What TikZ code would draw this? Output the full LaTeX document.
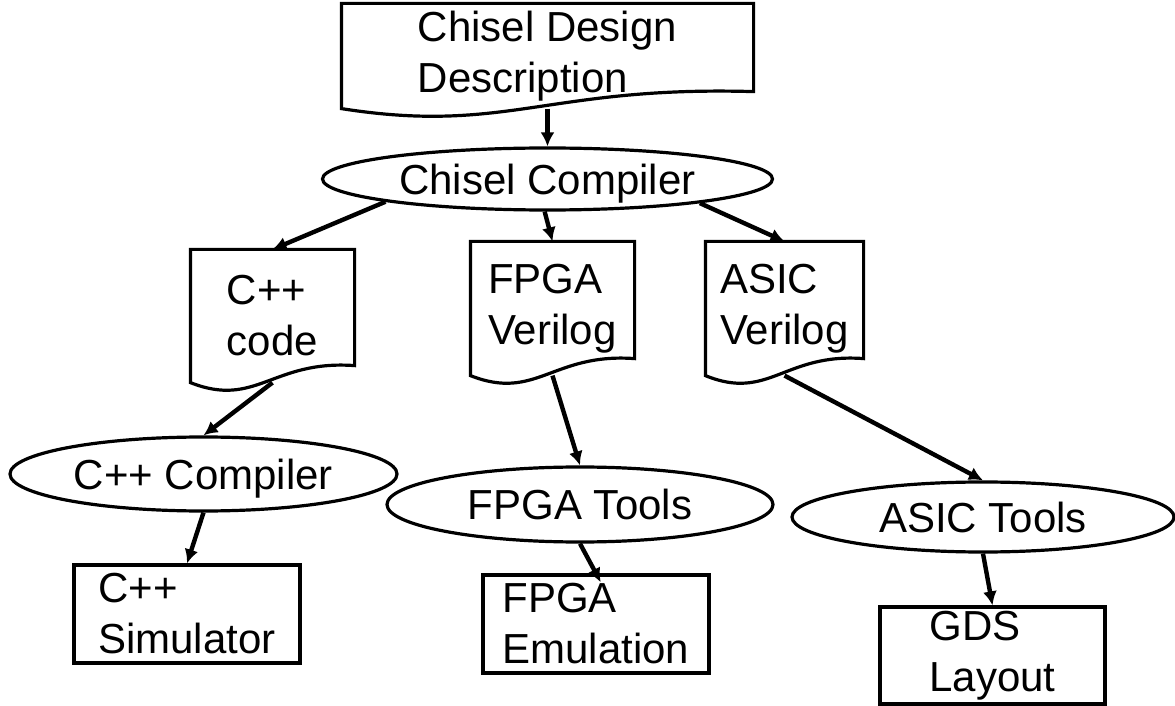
\documentclass[tikz,border=0pt]{standalone}
\usepackage{fontspec}
\setmainfont{Liberation Sans}
\usetikzlibrary{shapes.geometric,arrows.meta,calc}

% document outline: flat top, wavy bottom
\newcommand{\docwave}[1]{%
  \draw (#1.south west) -- (#1.north west) -- (#1.north east) -- ([yshift=8.5pt]#1.south east)
    .. controls ($(#1.south west)!0.5!(#1.south east)+(0,11.5pt)$) and ($(#1.south west)!0.4!(#1.south east)+(0,-13pt)$) .. (#1.south west) -- cycle;}

\begin{document}
\begin{tikzpicture}[line width=1.6pt, >={Latex[length=7pt,width=7pt]},
  every node/.style={font=\fontsize{21}{25.5}\selectfont},
  doc/.style={align=left, inner sep=0pt},
  tool/.style={ellipse, draw, inner sep=0pt, text depth=0pt},
  outbox/.style={rectangle, draw, align=left, inner sep=0pt},
  flow/.style={->, line width=2.2pt}]
\useasboundingbox (0,0) rectangle (587.5pt,-353pt);

\node[doc, minimum width=204.5pt, minimum height=51pt] (desc) at (273.75pt,-28pt) {Chisel Design\\Description};
\node[tool, minimum width=225pt, minimum height=31pt] (chiselc) at (273.75pt,-89.5pt) {Chisel Compiler};

\node[doc, minimum width=80.5pt, minimum height=65pt] (cppcode) at (136.25pt,-158pt) {C++\\code};
\node[doc, minimum width=80.5pt, minimum height=65.5pt] (fpgav) at (276.25pt,-154.25pt) {FPGA\\Verilog};
\node[doc, minimum width=77.5pt, minimum height=65.5pt] (asicv) at (392.25pt,-154.25pt) {ASIC\\Verilog};

\node[tool, minimum width=193.5pt, minimum height=37pt] (cppc) at (101.75pt,-237pt) {C++ Compiler};
\node[tool, minimum width=193pt, minimum height=37.5pt] (fpgat) at (290pt,-252.25pt) {FPGA Tools};
\node[tool, minimum width=191pt, minimum height=35pt] (asict) at (491.5pt,-258.5pt) {ASIC Tools};

\node[outbox, minimum width=113pt, minimum height=49pt] (cppsim) at (93.5pt,-307pt) {C++\\Simulator};
\node[outbox, minimum width=113pt, minimum height=49pt] (fpgaemu) at (298pt,-312pt) {FPGA\\Emulation};
\node[outbox, minimum width=112.5pt, minimum height=48.5pt] (gds) at (496.25pt,-327.75pt) {GDS\\Layout};

\docwave{desc}
\docwave{cppcode}
\docwave{fpgav}
\docwave{asicv}

\path[flow]
(desc.south) edge (chiselc.north)
(chiselc.188) edge (cppcode.north)
(chiselc.-95) edge (fpgav.north)
(chiselc.351) edge (asicv.north)
(cppcode.south) edge (cppc.north)
(fpgav.south) edge (fpgat.north)
(asicv.south) edge (asict.north)
(cppc.south) edge (cppsim.north)
(fpgat.south) edge[shorten >=-5pt] (fpgaemu.north)
(asict.south) edge (gds.north);
\end{tikzpicture}
\end{document}
